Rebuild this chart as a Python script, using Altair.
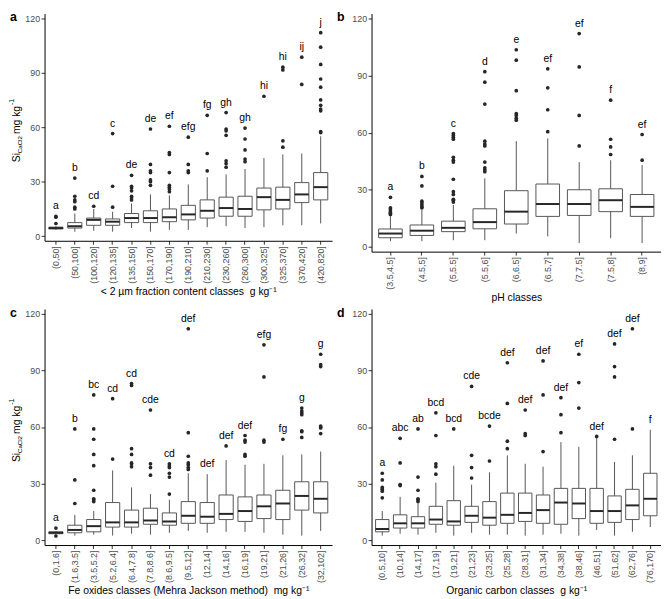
import altair as alt
import pandas as pd

FONT = "Liberation Sans"
GREY = "#555555"

# ---------------- panel a : < 2 um fraction ----------------
a_classes = ["(0,50]", "(50,100]", "(100,120]", "(120,135]", "(135,150]", "(150,170]", "(170,190]",
             "(190,210]", "(210,230]", "(230,260]", "(260,300]", "(300,325]", "(325,370]", "(370,420]", "(420,820]"]
a_low = [3.5, 2.5, 3, 2.5, 4.5, 2.5, 3.5, 3.5, 5, 5.5, 4.5, 5, 6, 6, 7]
a_q1 = [4, 4.5, 6, 6, 7.5, 7.5, 8, 9, 10, 11, 11, 14.5, 15, 18.5, 20]
a_med = [4.5, 5.5, 9, 8, 10, 10, 10.5, 12, 14, 15.5, 15, 21.5, 20, 23, 27]
a_q3 = [5, 7.5, 10, 9.5, 12.5, 14, 15, 17, 20, 21.5, 22, 26.5, 27, 29.5, 35]
a_high = [5.5, 12.5, 15, 13.5, 18, 23, 22.5, 28.5, 32.5, 34, 37, 43, 45, 45.5, 55]
a_out = [[7, 10.5, 11], [15, 16, 19, 20, 22, 32], [16.5], [16, 27.5, 56.5],
         [20, 21, 22, 25, 26.5, 27.5, 33.5], [28, 30, 31, 35, 36, 39.5, 59],
         [24.5, 26, 27, 28, 35, 45, 46, 60.5], [35, 36, 39.5, 54.5], [36, 45.5, 66.5],
         [38, 40, 41.5, 55.5, 58, 59, 68], [41, 42.5, 47.5, 53.5, 59.5], [77],
         [49, 52.5, 91.5, 93], [83.5, 98.5],
         [57, 57.5, 69, 70, 72, 75, 82, 86.5, 94.5, 104, 112]]
a_letters = ["a", "b", "cd", "c", "de", "de", "ef", "efg", "fg", "gh", "gh", "hi", "hi", "ij", "j"]

# ---------------- panel b : pH ----------------
b_classes = ["(3.5,4.5]", "(4.5,5]", "(5,5.5]", "(5.5,6]", "(6,6.5]", "(6.5,7]", "(7,7.5]", "(7.5,8]", "(8,9]"]
b_low = [3, 3, 3.5, 3.5, 7, 5.5, 2, 4.5, 2]
b_q1 = [4.8, 6, 8, 9.5, 12, 16, 16.5, 18.5, 16]
b_med = [7, 8.5, 10, 13, 18.5, 22.5, 22.5, 24.5, 21]
b_q3 = [9.4, 11.5, 13.5, 20, 29.5, 33, 30, 30.5, 27.5]
b_high = [16.5, 19.5, 22, 36, 55.5, 57, 44.5, 45.5, 43]
b_out = [[17, 17.5, 18, 19, 20, 20.5, 26], [20.5, 21, 22, 23, 24, 32, 37],
         [23.5, 24.5, 25, 27.5, 29, 35.5, 44.5, 45.5, 47, 56.5, 57.5, 58.5, 59.5],
         [39.5, 40.5, 41.5, 44.5, 53, 54, 55.5, 75, 86.5, 92],
         [66.5, 67.5, 69, 70, 82, 98, 103.5], [60.5, 72, 83.5, 93.5],
         [53, 69, 94.5, 112], [48.5, 52.5, 56.5, 77], [45.5, 59]]
b_letters = ["a", "b", "c", "d", "e", "ef", "ef", "f", "ef"]

# ---------------- panel c : Fe oxides ----------------
c_classes = ["(0,1.6]", "(1.6,3.5]", "(3.5,5.2]", "(5.2,6.4]", "(6.4,7.8]", "(7.8,8.6]", "(8.6,9.5]",
             "(9.5,12]", "(12,14]", "(14,16]", "(16,19]", "(19,21]", "(21,26]", "(26,32]", "(32,102]"]
c_low = [3, 2.5, 3, 2.5, 3.5, 3, 4, 5, 4, 4.5, 4.5, 4, 3, 2.5, 5]
c_q1 = [3.5, 4, 4.5, 7, 7, 8.5, 8, 9, 9, 11, 10, 11.5, 11, 16, 14.5]
c_med = [4, 5.5, 7.5, 9.5, 9.5, 10.5, 10, 13, 12.5, 14, 15.5, 18, 19.5, 23.5, 22]
c_q3 = [4.5, 8, 11, 20, 16, 17, 14.5, 20.5, 20, 24, 23, 24, 26.5, 31, 31]
c_high = [5, 13.5, 15.5, 37, 28, 24.5, 21.5, 35.5, 35, 42.5, 40, 40.5, 45, 45.5, 47]
c_out = [[2.3, 6.5], [19.5, 32, 59], [20.5, 21.5, 22, 26.5, 39.5, 45.5, 53.5, 59, 77], [43, 75],
         [39, 40.5, 41, 45.5, 48.5, 82, 83], [34.5, 38.5, 40.5, 69],
         [24.5, 33.5, 35.5, 38.5, 39.5, 40.5], [37.5, 38.5, 40, 41, 44.5, 57, 112], [], [50],
         [44.5, 45.5, 52, 53, 55.5], [52, 53, 86.5, 103.5], [53.5],
         [54.5, 57.5, 58, 66.5, 67.5, 68.5, 70], [56.5, 59.5, 60, 60.5, 92, 93, 98.5]]
c_letters = ["a", "b", "bc", "cd", "cd", "cde", "cd", "def", "def", "def", "def", "efg", "fg", "g", "g"]

# ---------------- panel d : organic carbon ----------------
d_classes = ["(0.5,10]", "(10,14]", "(14,17]", "(17,19]", "(19,21]", "(21,23]", "(23,25]", "(25,28]",
             "(28,31]", "(31,34]", "(34,38]", "(38,46]", "(46,51]", "(51,62]", "(62,76]", "(76,170]"]
d_low = [2.5, 3.5, 3, 4, 2.5, 4, 3, 3, 2.5, 3, 3.5, 2.5, 5.5, 2.5, 4.5, 7]
d_q1 = [4.5, 6.5, 6.5, 8.5, 8, 9.5, 8, 9, 10, 9, 8.5, 11.5, 9, 9.5, 11, 13]
d_med = [6, 9, 9, 11, 10, 13, 12, 13.5, 14.5, 16, 20, 19.5, 15.5, 15.5, 18.5, 22]
d_q3 = [11, 13.5, 12.5, 18, 21, 18, 20.5, 25, 25, 24, 27.5, 27.5, 27.5, 23.5, 27, 35.5]
d_high = [15.5, 23, 19.5, 30.5, 39.5, 29.5, 36, 45, 40.5, 39, 52, 49.5, 55, 41.5, 45, 58.5]
d_out = [[22.5, 26, 27, 28, 32, 35.5], [29, 29.5, 41, 54], [20.5, 21.5, 22, 26.5, 33.5, 59],
         [35, 39, 40.5, 55.5, 67.5], [59], [33, 38.5, 45, 81.5], [42, 60.5],
         [48.5, 52.5, 72.5, 94], [55.5, 56.5, 69], [47, 77, 95], [57, 66.5, 75.5],
         [70, 83.5, 98.5], [55], [53.5, 86.5, 92, 104], [59, 112], []]
d_letters = ["a", "abc", "ab", "bcd", "bcd", "cde", "bcde", "def", "def", "def", "def", "ef", "def", "def", "def", "f"]

y_ticks = [0, 30, 60, 90, 120]
NB = "\u00a0"


def one_text(txt, x, y, size, angle=0, weight="normal", align="left", baseline="middle"):
    return alt.Chart(pd.DataFrame({"t": [txt]})).mark_text(
        text=txt, font=FONT, fontSize=size, fontWeight=weight, angle=angle,
        align=align, baseline=baseline, color="black"
    ).encode(x=alt.value(x), y=alt.value(y))


def panel(classes, low, q1, med, q3, high, outs, letters, w, h, xtitle, tag, ytitle):
    tops = [max([hi] + o) for hi, o in zip(high, outs)]
    box = pd.DataFrame({"cls": classes, "low": low, "q1": q1, "med": med, "q3": q3,
                        "high": high, "top": tops, "lab": letters})
    pts = pd.DataFrame({"cls": [c for c, o in zip(classes, outs) for _ in o],
                        "v": [v for o in outs for v in o]})
    xscale = alt.Scale(domain=classes, paddingInner=0, paddingOuter=0.1)
    xenc = alt.X("cls:N", scale=xscale,
                 axis=alt.Axis(title=xtitle, labelAngle=270, labelOverlap=False))
    yscale = alt.Scale(domain=[-2.5, 122.5], nice=False, zero=False)
    yenc = alt.Y("low:Q", scale=yscale, axis=alt.Axis(values=y_ticks, title=None))
    step = w / (len(classes) + 0.2)

    base = alt.Chart(box)
    whisk = base.mark_rule(color=GREY, strokeWidth=1).encode(x=xenc, y=yenc, y2="high:Q")
    bx = base.mark_bar(width=alt.RelativeBandSize(0.75), fill="white", stroke=GREY,
                       strokeWidth=1).encode(x=xenc, y=alt.Y("q1:Q", scale=yscale), y2="q3:Q")
    medm = base.mark_tick(thickness=2, size=step * 0.75, color="#262626", opacity=1,
                          orient="horizontal").encode(x=xenc, y=alt.Y("med:Q", scale=yscale))
    dots = alt.Chart(pts).mark_circle(size=14, color="#262626", opacity=1).encode(
        x=xenc, y=alt.Y("v:Q", scale=yscale))
    labs = base.mark_text(font=FONT, fontSize=10.5, dy=-10, color="black").encode(
        x=xenc, y=alt.Y("top:Q", scale=yscale), text="lab:N")
    layers = [whisk, bx, medm, dots, labs,
              one_text(tag, -35, 8, 12.5, weight="bold", baseline="alphabetic")]
    if ytitle:
        c = h / 2 + 2
        layers += [
            one_text("Si", -27.5, c + 33.5, 10.5, angle=270),
            one_text("CaCl2", -24.5, c + 24.3, 6.2, angle=270),
            one_text("mg kg", -27.5, c + 5, 10.5, angle=270),
            one_text("-1", -32.5, c - 24.5, 7, angle=270),
        ]
    return alt.layer(*layers).properties(width=w, height=h)


pa = panel(a_classes, a_low, a_q1, a_med, a_q3, a_high, a_out, a_letters, 291, 230,
           "< 2 µm fraction content classes " + NB + "g kg⁻¹", "a", True)
pb = panel(b_classes, b_low, b_q1, b_med, b_q3, b_high, b_out, b_letters, 293, 241,
           "pH classes", "b", False)
pc = panel(c_classes, c_low, c_q1, c_med, c_q3, c_high, c_out, c_letters, 291, 239,
           "Fe oxides classes (Mehra Jackson method) " + NB + "mg kg⁻¹", "c", True)
pd_ = panel(d_classes, d_low, d_q1, d_med, d_q3, d_high, d_out, d_letters, 293, 239,
            "Organic carbon classes " + NB + "g kg⁻¹", "d", False)

chart = alt.vconcat(
    alt.hconcat(pa, pb, spacing=5),
    alt.hconcat(pc, pd_, spacing=5),
    spacing=4,
).properties(padding=0).configure_view(stroke=None).configure_axis(
    domainColor="black", domainWidth=1, tickColor="#333333", tickSize=3.5,
    labelColor="#4d4d4d", labelFontSize=9, labelFont=FONT, labelPadding=1.5,
    titleFont=FONT, titleFontSize=10.5, titleFontWeight="normal", titleColor="black",
    titlePadding=3, grid=False,
)

chart.save("out.html", embed_options={"renderer": "svg", "actions": False})
